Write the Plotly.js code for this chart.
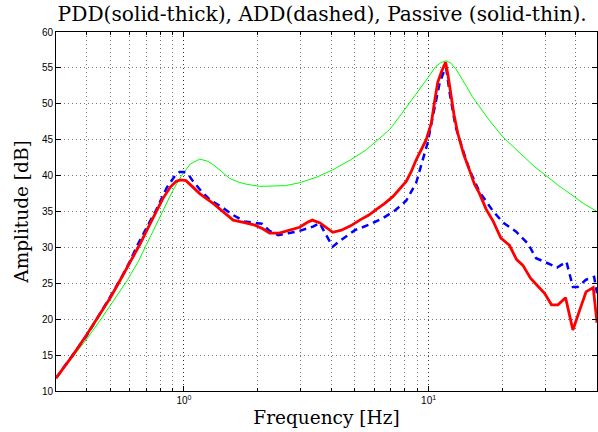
<!DOCTYPE html>
<html>
<head>
<meta charset="utf-8">
<script src="https://cdn.plot.ly/plotly-3.0.1.min.js"></script>
<style>html,body{margin:0;padding:0;background:#fff;}#chart{width:598px;height:432px;}</style>
</head>
<body>
<div id="chart"></div>
<script>
// Passive (solid-thin)
var passiveFreq = [0.30,0.356,0.40,0.458,0.52,0.589,0.65,0.704,0.76,0.823,0.90,0.978,1.06,1.16,1.25,1.32,1.43,1.54,1.67,1.80,2.04,2.31,2.6,2.97,3.5,4.06,4.8,5.57,6.3,6.92,7.6,8.37,9.1,9.78,10.7,11.2,11.74,12.3,12.9,13.6,14.3,15.1,16.1,17.7,20.1,22.8,24.3,27,30.2,34,38.9,43,48.8];
var passiveDb   = [11.8,15.0,17.2,20.0,22.8,25.5,28.0,30.4,32.8,35.3,37.9,40.0,41.6,42.3,42.0,41.5,40.5,39.6,39.1,38.8,38.5,38.5,38.6,39.0,39.8,40.8,42.2,43.6,45.2,46.4,48.2,50.1,51.8,53.3,55.2,55.7,56.0,55.7,54.9,53.7,52.4,51.0,49.6,47.7,45.4,43.6,42.7,41.3,40.0,38.6,37.2,36.1,35.0];

// ADD (dashed)
var addFreq = [0.30,0.35,0.40,0.44,0.50,0.55,0.60,0.65,0.71,0.77,0.85,0.92,0.96,1.0,1.05,1.09,1.18,1.28,1.43,1.59,1.77,2.08,2.24,2.43,2.7,2.97,3.37,3.59,3.8,4.06,4.3,4.61,5.0,5.75,6.52,7.33,8.1,8.9,9.6,9.9,10.4,11.1,11.6,11.8,12.2,12.9,13.8,14.7,16.1,18.3,20.1,22.8,25.5,27.5,30.2,33.5,36.6,38.9,40.7,44,47.5,48.8];
var addDb   = [11.8,15.0,17.7,20.0,23.1,25.5,28.0,30.5,33.0,35.2,38.3,40.0,40.5,40.5,40.0,39.2,37.8,36.6,35.6,34.5,33.6,33.3,32.3,31.7,32.0,32.3,32.9,33.4,31.8,30.1,30.8,31.5,32.4,33.2,34.1,35.2,36.5,39.0,42.9,44.5,48.2,52.9,54.7,55.0,51.5,46.8,43.6,40.8,37.8,35.1,33.5,32.2,30.5,28.5,27.9,27.2,28.0,24.5,24.5,25.5,25.9,23.6];

// PDD (solid-thick)
var pddFreq = [0.30,0.35,0.40,0.44,0.50,0.55,0.60,0.66,0.72,0.77,0.82,0.88,0.93,0.97,1.02,1.08,1.16,1.32,1.45,1.59,1.75,1.95,2.1,2.24,2.45,2.7,2.97,3.2,3.35,3.6,3.85,4.06,4.4,4.8,5.23,5.7,6.12,6.6,7.16,7.6,8.1,8.5,8.9,9.78,10.26,10.6,10.9,11.3,11.74,12.0,12.36,12.7,13.16,13.9,14.68,15.4,16.1,17.2,18.4,19.75,21.4,22.9,24.3,26.1,28.0,29.8,31.8,33.8,36.3,38.9,41.5,44.0,47.1,48.8];
var pddDb   = [11.8,14.9,17.8,20.0,23.0,25.5,27.8,30.4,33.0,35.0,36.8,38.4,39.2,39.4,39.3,38.5,37.5,36.1,35.0,33.8,33.5,33.1,32.6,32.0,32.0,32.4,32.8,33.5,33.8,33.4,32.7,32.1,32.4,33.0,33.8,34.5,35.3,36.1,37.1,38.1,39.2,40.6,42.2,45.0,47.3,50.5,53.0,54.5,55.8,54.0,51.0,48.5,45.9,43.0,40.8,38.8,37.6,35.3,33.6,31.3,30.3,28.3,27.5,25.7,24.6,23.6,22.0,22.0,23.0,18.5,21.3,23.8,24.4,19.5];

var xMajorVals = [1, 10];
var xMajorText = ['10<sup>0</sup>', '10<sup>1</sup>'];
var xMinorVals = [0.3,0.4,0.5,0.6,0.7,0.8,0.9,2,3,4,5,6,7,8,9,20,30,40];
var yTicks = [10,15,20,25,30,35,40,45,50,55,60];

var traces = [
  {x: passiveFreq, y: passiveDb, type: 'scatter', mode: 'lines', name: 'Passive',
   line: {color: '#00ff00', width: 1}},
  {x: addFreq, y: addDb, type: 'scatter', mode: 'lines', name: 'ADD',
   line: {color: '#0000ff', width: 2.5, dash: '7px,5px'}},
  {x: pddFreq, y: pddDb, type: 'scatter', mode: 'lines', name: 'PDD',
   line: {color: '#ff0000', width: 2.8}}
];

var labelFont = {family: 'DejaVu Serif, serif', size: 18.5, color: '#000'};

var axisCommon = {
  showline: true, linecolor: '#000', linewidth: 1, mirror: 'ticks',
  ticks: 'inside', ticklen: 5, tickcolor: '#000', tickwidth: 1,
  showgrid: true, gridcolor: '#555', griddash: '1px,3px', gridwidth: 1,
  zeroline: false,
  tickfont: {family: 'Liberation Sans, Arial, sans-serif', size: 10, color: '#000'}
};

var layout = {
  width: 598, height: 432,
  margin: {l: 56, r: 1, t: 32, b: 41},
  paper_bgcolor: '#fff', plot_bgcolor: '#fff',
  showlegend: false,
  title: {text: 'PDD(solid-thick), ADD(dashed), Passive (solid-thin).',
          font: {family: 'DejaVu Serif, serif', size: 20.2, color: '#000'},
          x: 0.492, xref: 'paper', xanchor: 'center', y: 0.968, yref: 'container', yanchor: 'middle'},
  xaxis: Object.assign({}, axisCommon, {
    type: 'log', range: [Math.log10(0.3), Math.log10(48.8)],
    tickmode: 'array', tickvals: xMajorVals, ticktext: xMajorText,
    gridcolor: '#333',
    minor: {tickmode: 'array', tickvals: xMinorVals, ticks: 'inside', ticklen: 3,
            tickcolor: '#000', showgrid: true, gridcolor: '#777', griddash: '1px,3px', gridwidth: 1},
    title: {text: 'Frequency [Hz]', font: labelFont, standoff: 6}
  }),
  yaxis: Object.assign({}, axisCommon, {
    range: [10, 60], tickmode: 'array', tickvals: yTicks, gridcolor: '#777',
    title: {text: 'Amplitude [dB]', font: labelFont, standoff: 8}
  })
};

Plotly.newPlot('chart', traces, layout, {displayModeBar: false, staticPlot: true});
</script>
</body>
</html>
